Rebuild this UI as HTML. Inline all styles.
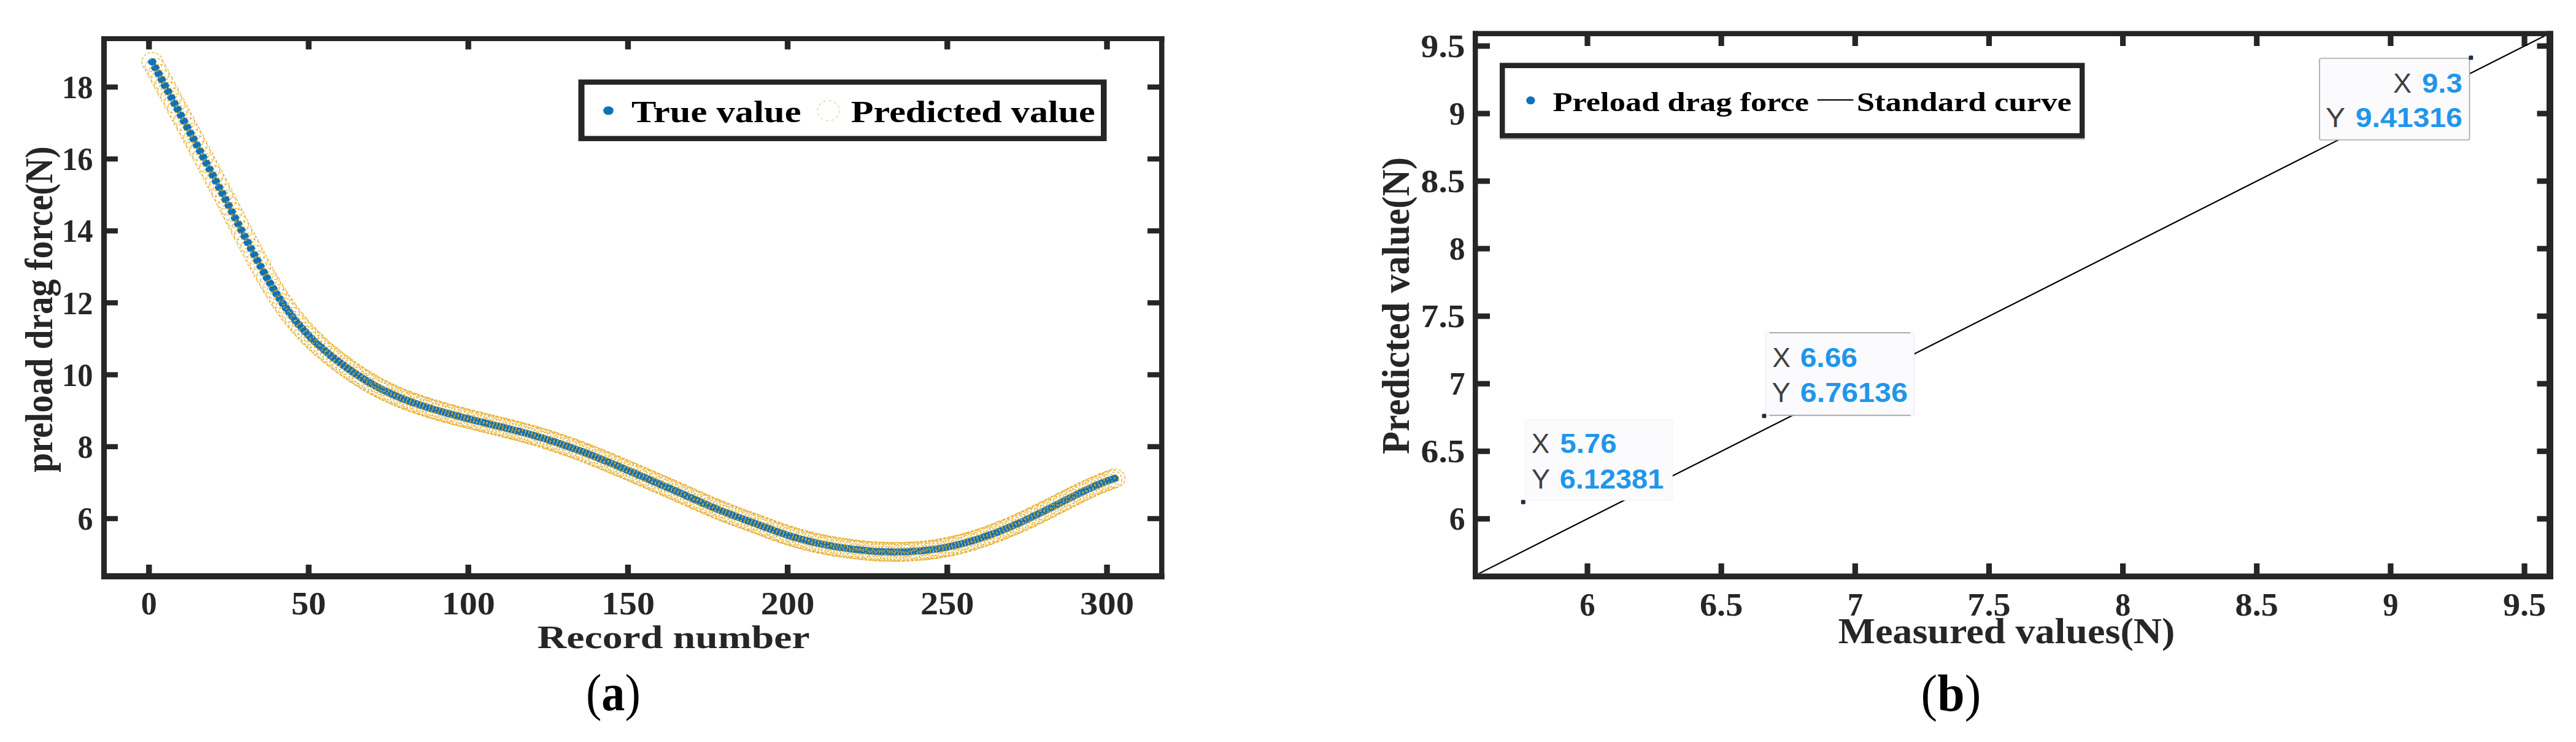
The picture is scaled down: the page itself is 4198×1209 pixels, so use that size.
<!DOCTYPE html>
<html lang="en"><head><meta charset="utf-8"><title>Figure</title>
<style>
html,body{margin:0;padding:0;background:#fff;}
body{width:4198px;height:1209px;overflow:hidden;}
svg{display:block;}
text{white-space:pre;}
</style></head><body>
<svg width="4198" height="1209" viewBox="0 0 4198 1209">
<rect width="4198" height="1209" fill="#ffffff"/>
<rect x="165.00" y="59.00" width="1732.50" height="8.00" fill="#262626" />
<rect x="165.00" y="934.00" width="1732.50" height="10.00" fill="#262626" />
<rect x="165.00" y="59.00" width="9.00" height="885.00" fill="#262626" />
<rect x="1889.00" y="59.00" width="8.50" height="885.00" fill="#262626" />
<rect x="238.10" y="66.00" width="9.40" height="14.50" fill="#262626" />
<rect x="238.10" y="920.00" width="9.40" height="15.00" fill="#262626" />
<rect x="498.30" y="66.00" width="9.40" height="14.50" fill="#262626" />
<rect x="498.30" y="920.00" width="9.40" height="15.00" fill="#262626" />
<rect x="758.50" y="66.00" width="9.40" height="14.50" fill="#262626" />
<rect x="758.50" y="920.00" width="9.40" height="15.00" fill="#262626" />
<rect x="1018.70" y="66.00" width="9.40" height="14.50" fill="#262626" />
<rect x="1018.70" y="920.00" width="9.40" height="15.00" fill="#262626" />
<rect x="1278.90" y="66.00" width="9.40" height="14.50" fill="#262626" />
<rect x="1278.90" y="920.00" width="9.40" height="15.00" fill="#262626" />
<rect x="1539.10" y="66.00" width="9.40" height="14.50" fill="#262626" />
<rect x="1539.10" y="920.00" width="9.40" height="15.00" fill="#262626" />
<rect x="1799.30" y="66.00" width="9.40" height="14.50" fill="#262626" />
<rect x="1799.30" y="920.00" width="9.40" height="15.00" fill="#262626" />
<rect x="173.00" y="840.80" width="19.00" height="8.40" fill="#262626" />
<rect x="1870.00" y="840.80" width="20.00" height="8.40" fill="#262626" />
<rect x="173.00" y="723.60" width="19.00" height="8.40" fill="#262626" />
<rect x="1870.00" y="723.60" width="20.00" height="8.40" fill="#262626" />
<rect x="173.00" y="606.40" width="19.00" height="8.40" fill="#262626" />
<rect x="1870.00" y="606.40" width="20.00" height="8.40" fill="#262626" />
<rect x="173.00" y="489.20" width="19.00" height="8.40" fill="#262626" />
<rect x="1870.00" y="489.20" width="20.00" height="8.40" fill="#262626" />
<rect x="173.00" y="372.00" width="19.00" height="8.40" fill="#262626" />
<rect x="1870.00" y="372.00" width="20.00" height="8.40" fill="#262626" />
<rect x="173.00" y="254.80" width="19.00" height="8.40" fill="#262626" />
<rect x="1870.00" y="254.80" width="20.00" height="8.40" fill="#262626" />
<rect x="173.00" y="137.60" width="19.00" height="8.40" fill="#262626" />
<rect x="1870.00" y="137.60" width="20.00" height="8.40" fill="#262626" />
<g fill="#0e72b7">
<ellipse cx="248.0" cy="100.8" rx="6.9" ry="6.0"/>
<ellipse cx="253.2" cy="110.5" rx="6.9" ry="6.0"/>
<ellipse cx="258.4" cy="120.1" rx="6.9" ry="6.0"/>
<ellipse cx="263.6" cy="129.8" rx="6.9" ry="6.0"/>
<ellipse cx="268.8" cy="139.5" rx="6.9" ry="6.0"/>
<ellipse cx="274.0" cy="149.1" rx="6.9" ry="6.0"/>
<ellipse cx="279.2" cy="158.8" rx="6.9" ry="6.0"/>
<ellipse cx="284.4" cy="168.5" rx="6.9" ry="6.0"/>
<ellipse cx="289.6" cy="178.1" rx="6.9" ry="6.0"/>
<ellipse cx="294.7" cy="187.8" rx="6.9" ry="6.0"/>
<ellipse cx="299.9" cy="197.5" rx="6.9" ry="6.0"/>
<ellipse cx="305.1" cy="207.2" rx="6.9" ry="6.0"/>
<ellipse cx="310.3" cy="216.9" rx="6.9" ry="6.0"/>
<ellipse cx="315.5" cy="226.6" rx="6.9" ry="6.0"/>
<ellipse cx="320.7" cy="236.3" rx="6.9" ry="6.0"/>
<ellipse cx="325.9" cy="246.1" rx="6.9" ry="6.0"/>
<ellipse cx="331.1" cy="255.9" rx="6.9" ry="6.0"/>
<ellipse cx="336.3" cy="265.7" rx="6.9" ry="6.0"/>
<ellipse cx="341.5" cy="275.5" rx="6.9" ry="6.0"/>
<ellipse cx="346.7" cy="285.4" rx="6.9" ry="6.0"/>
<ellipse cx="351.9" cy="295.3" rx="6.9" ry="6.0"/>
<ellipse cx="357.1" cy="305.2" rx="6.9" ry="6.0"/>
<ellipse cx="362.3" cy="315.1" rx="6.9" ry="6.0"/>
<ellipse cx="367.5" cy="325.1" rx="6.9" ry="6.0"/>
<ellipse cx="372.7" cy="335.1" rx="6.9" ry="6.0"/>
<ellipse cx="377.8" cy="345.0" rx="6.9" ry="6.0"/>
<ellipse cx="383.0" cy="355.0" rx="6.9" ry="6.0"/>
<ellipse cx="388.2" cy="365.0" rx="6.9" ry="6.0"/>
<ellipse cx="393.4" cy="375.0" rx="6.9" ry="6.0"/>
<ellipse cx="398.6" cy="385.0" rx="6.9" ry="6.0"/>
<ellipse cx="403.8" cy="395.0" rx="6.9" ry="6.0"/>
<ellipse cx="409.0" cy="404.9" rx="6.9" ry="6.0"/>
<ellipse cx="414.2" cy="414.7" rx="6.9" ry="6.0"/>
<ellipse cx="419.4" cy="424.4" rx="6.9" ry="6.0"/>
<ellipse cx="424.6" cy="434.0" rx="6.9" ry="6.0"/>
<ellipse cx="429.8" cy="443.5" rx="6.9" ry="6.0"/>
<ellipse cx="435.0" cy="452.7" rx="6.9" ry="6.0"/>
<ellipse cx="440.2" cy="461.6" rx="6.9" ry="6.0"/>
<ellipse cx="445.4" cy="470.3" rx="6.9" ry="6.0"/>
<ellipse cx="450.6" cy="478.8" rx="6.9" ry="6.0"/>
<ellipse cx="455.8" cy="486.8" rx="6.9" ry="6.0"/>
<ellipse cx="460.9" cy="494.6" rx="6.9" ry="6.0"/>
<ellipse cx="466.1" cy="502.0" rx="6.9" ry="6.0"/>
<ellipse cx="471.3" cy="509.1" rx="6.9" ry="6.0"/>
<ellipse cx="476.5" cy="516.0" rx="6.9" ry="6.0"/>
<ellipse cx="481.7" cy="522.5" rx="6.9" ry="6.0"/>
<ellipse cx="486.9" cy="528.8" rx="6.9" ry="6.0"/>
<ellipse cx="492.1" cy="534.8" rx="6.9" ry="6.0"/>
<ellipse cx="497.3" cy="540.6" rx="6.9" ry="6.0"/>
<ellipse cx="502.5" cy="546.1" rx="6.9" ry="6.0"/>
<ellipse cx="507.7" cy="551.4" rx="6.9" ry="6.0"/>
<ellipse cx="512.9" cy="556.5" rx="6.9" ry="6.0"/>
<ellipse cx="518.1" cy="561.4" rx="6.9" ry="6.0"/>
<ellipse cx="523.3" cy="566.1" rx="6.9" ry="6.0"/>
<ellipse cx="528.5" cy="570.6" rx="6.9" ry="6.0"/>
<ellipse cx="533.7" cy="575.0" rx="6.9" ry="6.0"/>
<ellipse cx="538.8" cy="579.2" rx="6.9" ry="6.0"/>
<ellipse cx="544.0" cy="583.3" rx="6.9" ry="6.0"/>
<ellipse cx="549.2" cy="587.3" rx="6.9" ry="6.0"/>
<ellipse cx="554.4" cy="591.3" rx="6.9" ry="6.0"/>
<ellipse cx="559.6" cy="595.1" rx="6.9" ry="6.0"/>
<ellipse cx="564.8" cy="598.9" rx="6.9" ry="6.0"/>
<ellipse cx="570.0" cy="602.6" rx="6.9" ry="6.0"/>
<ellipse cx="575.2" cy="606.2" rx="6.9" ry="6.0"/>
<ellipse cx="580.4" cy="609.7" rx="6.9" ry="6.0"/>
<ellipse cx="585.6" cy="613.1" rx="6.9" ry="6.0"/>
<ellipse cx="590.8" cy="616.5" rx="6.9" ry="6.0"/>
<ellipse cx="596.0" cy="619.7" rx="6.9" ry="6.0"/>
<ellipse cx="601.2" cy="622.8" rx="6.9" ry="6.0"/>
<ellipse cx="606.4" cy="625.8" rx="6.9" ry="6.0"/>
<ellipse cx="611.6" cy="628.7" rx="6.9" ry="6.0"/>
<ellipse cx="616.8" cy="631.5" rx="6.9" ry="6.0"/>
<ellipse cx="621.9" cy="634.2" rx="6.9" ry="6.0"/>
<ellipse cx="627.1" cy="636.8" rx="6.9" ry="6.0"/>
<ellipse cx="632.3" cy="639.3" rx="6.9" ry="6.0"/>
<ellipse cx="637.5" cy="641.7" rx="6.9" ry="6.0"/>
<ellipse cx="642.7" cy="644.0" rx="6.9" ry="6.0"/>
<ellipse cx="647.9" cy="646.2" rx="6.9" ry="6.0"/>
<ellipse cx="653.1" cy="648.4" rx="6.9" ry="6.0"/>
<ellipse cx="658.3" cy="650.4" rx="6.9" ry="6.0"/>
<ellipse cx="663.5" cy="652.5" rx="6.9" ry="6.0"/>
<ellipse cx="668.7" cy="654.4" rx="6.9" ry="6.0"/>
<ellipse cx="673.9" cy="656.3" rx="6.9" ry="6.0"/>
<ellipse cx="679.1" cy="658.1" rx="6.9" ry="6.0"/>
<ellipse cx="684.3" cy="659.9" rx="6.9" ry="6.0"/>
<ellipse cx="689.5" cy="661.6" rx="6.9" ry="6.0"/>
<ellipse cx="694.7" cy="663.3" rx="6.9" ry="6.0"/>
<ellipse cx="699.9" cy="664.9" rx="6.9" ry="6.0"/>
<ellipse cx="705.0" cy="666.5" rx="6.9" ry="6.0"/>
<ellipse cx="710.2" cy="668.0" rx="6.9" ry="6.0"/>
<ellipse cx="715.4" cy="669.5" rx="6.9" ry="6.0"/>
<ellipse cx="720.6" cy="671.0" rx="6.9" ry="6.0"/>
<ellipse cx="725.8" cy="672.5" rx="6.9" ry="6.0"/>
<ellipse cx="731.0" cy="673.9" rx="6.9" ry="6.0"/>
<ellipse cx="736.2" cy="675.3" rx="6.9" ry="6.0"/>
<ellipse cx="741.4" cy="676.7" rx="6.9" ry="6.0"/>
<ellipse cx="746.6" cy="678.1" rx="6.9" ry="6.0"/>
<ellipse cx="751.8" cy="679.4" rx="6.9" ry="6.0"/>
<ellipse cx="757.0" cy="680.8" rx="6.9" ry="6.0"/>
<ellipse cx="762.2" cy="682.1" rx="6.9" ry="6.0"/>
<ellipse cx="767.4" cy="683.4" rx="6.9" ry="6.0"/>
<ellipse cx="772.6" cy="684.7" rx="6.9" ry="6.0"/>
<ellipse cx="777.8" cy="686.0" rx="6.9" ry="6.0"/>
<ellipse cx="783.0" cy="687.3" rx="6.9" ry="6.0"/>
<ellipse cx="788.1" cy="688.6" rx="6.9" ry="6.0"/>
<ellipse cx="793.3" cy="689.9" rx="6.9" ry="6.0"/>
<ellipse cx="798.5" cy="691.1" rx="6.9" ry="6.0"/>
<ellipse cx="803.7" cy="692.4" rx="6.9" ry="6.0"/>
<ellipse cx="808.9" cy="693.7" rx="6.9" ry="6.0"/>
<ellipse cx="814.1" cy="695.0" rx="6.9" ry="6.0"/>
<ellipse cx="819.3" cy="696.3" rx="6.9" ry="6.0"/>
<ellipse cx="824.5" cy="697.6" rx="6.9" ry="6.0"/>
<ellipse cx="829.7" cy="698.8" rx="6.9" ry="6.0"/>
<ellipse cx="834.9" cy="700.2" rx="6.9" ry="6.0"/>
<ellipse cx="840.1" cy="701.5" rx="6.9" ry="6.0"/>
<ellipse cx="845.3" cy="702.8" rx="6.9" ry="6.0"/>
<ellipse cx="850.5" cy="704.2" rx="6.9" ry="6.0"/>
<ellipse cx="855.7" cy="705.6" rx="6.9" ry="6.0"/>
<ellipse cx="860.9" cy="707.0" rx="6.9" ry="6.0"/>
<ellipse cx="866.0" cy="708.5" rx="6.9" ry="6.0"/>
<ellipse cx="871.2" cy="710.0" rx="6.9" ry="6.0"/>
<ellipse cx="876.4" cy="711.5" rx="6.9" ry="6.0"/>
<ellipse cx="881.6" cy="713.0" rx="6.9" ry="6.0"/>
<ellipse cx="886.8" cy="714.6" rx="6.9" ry="6.0"/>
<ellipse cx="892.0" cy="716.3" rx="6.9" ry="6.0"/>
<ellipse cx="897.2" cy="717.9" rx="6.9" ry="6.0"/>
<ellipse cx="902.4" cy="719.6" rx="6.9" ry="6.0"/>
<ellipse cx="907.6" cy="721.3" rx="6.9" ry="6.0"/>
<ellipse cx="912.8" cy="723.1" rx="6.9" ry="6.0"/>
<ellipse cx="918.0" cy="724.9" rx="6.9" ry="6.0"/>
<ellipse cx="923.2" cy="726.7" rx="6.9" ry="6.0"/>
<ellipse cx="928.4" cy="728.5" rx="6.9" ry="6.0"/>
<ellipse cx="933.6" cy="730.4" rx="6.9" ry="6.0"/>
<ellipse cx="938.8" cy="732.3" rx="6.9" ry="6.0"/>
<ellipse cx="944.0" cy="734.2" rx="6.9" ry="6.0"/>
<ellipse cx="949.1" cy="736.1" rx="6.9" ry="6.0"/>
<ellipse cx="954.3" cy="738.1" rx="6.9" ry="6.0"/>
<ellipse cx="959.5" cy="740.1" rx="6.9" ry="6.0"/>
<ellipse cx="964.7" cy="742.1" rx="6.9" ry="6.0"/>
<ellipse cx="969.9" cy="744.2" rx="6.9" ry="6.0"/>
<ellipse cx="975.1" cy="746.3" rx="6.9" ry="6.0"/>
<ellipse cx="980.3" cy="748.4" rx="6.9" ry="6.0"/>
<ellipse cx="985.5" cy="750.5" rx="6.9" ry="6.0"/>
<ellipse cx="990.7" cy="752.7" rx="6.9" ry="6.0"/>
<ellipse cx="995.9" cy="754.9" rx="6.9" ry="6.0"/>
<ellipse cx="1001.1" cy="757.1" rx="6.9" ry="6.0"/>
<ellipse cx="1006.3" cy="759.3" rx="6.9" ry="6.0"/>
<ellipse cx="1011.5" cy="761.5" rx="6.9" ry="6.0"/>
<ellipse cx="1016.7" cy="763.7" rx="6.9" ry="6.0"/>
<ellipse cx="1021.9" cy="765.9" rx="6.9" ry="6.0"/>
<ellipse cx="1027.1" cy="768.1" rx="6.9" ry="6.0"/>
<ellipse cx="1032.2" cy="770.3" rx="6.9" ry="6.0"/>
<ellipse cx="1037.4" cy="772.5" rx="6.9" ry="6.0"/>
<ellipse cx="1042.6" cy="774.8" rx="6.9" ry="6.0"/>
<ellipse cx="1047.8" cy="777.0" rx="6.9" ry="6.0"/>
<ellipse cx="1053.0" cy="779.2" rx="6.9" ry="6.0"/>
<ellipse cx="1058.2" cy="781.4" rx="6.9" ry="6.0"/>
<ellipse cx="1063.4" cy="783.7" rx="6.9" ry="6.0"/>
<ellipse cx="1068.6" cy="785.9" rx="6.9" ry="6.0"/>
<ellipse cx="1073.8" cy="788.2" rx="6.9" ry="6.0"/>
<ellipse cx="1079.0" cy="790.4" rx="6.9" ry="6.0"/>
<ellipse cx="1084.2" cy="792.7" rx="6.9" ry="6.0"/>
<ellipse cx="1089.4" cy="795.0" rx="6.9" ry="6.0"/>
<ellipse cx="1094.6" cy="797.2" rx="6.9" ry="6.0"/>
<ellipse cx="1099.8" cy="799.5" rx="6.9" ry="6.0"/>
<ellipse cx="1105.0" cy="801.8" rx="6.9" ry="6.0"/>
<ellipse cx="1110.2" cy="804.1" rx="6.9" ry="6.0"/>
<ellipse cx="1115.3" cy="806.4" rx="6.9" ry="6.0"/>
<ellipse cx="1120.5" cy="808.7" rx="6.9" ry="6.0"/>
<ellipse cx="1125.7" cy="811.0" rx="6.9" ry="6.0"/>
<ellipse cx="1130.9" cy="813.3" rx="6.9" ry="6.0"/>
<ellipse cx="1136.1" cy="815.6" rx="6.9" ry="6.0"/>
<ellipse cx="1141.3" cy="817.9" rx="6.9" ry="6.0"/>
<ellipse cx="1146.5" cy="820.2" rx="6.9" ry="6.0"/>
<ellipse cx="1151.7" cy="822.4" rx="6.9" ry="6.0"/>
<ellipse cx="1156.9" cy="824.7" rx="6.9" ry="6.0"/>
<ellipse cx="1162.1" cy="826.9" rx="6.9" ry="6.0"/>
<ellipse cx="1167.3" cy="829.1" rx="6.9" ry="6.0"/>
<ellipse cx="1172.5" cy="831.2" rx="6.9" ry="6.0"/>
<ellipse cx="1177.7" cy="833.3" rx="6.9" ry="6.0"/>
<ellipse cx="1182.9" cy="835.3" rx="6.9" ry="6.0"/>
<ellipse cx="1188.1" cy="837.3" rx="6.9" ry="6.0"/>
<ellipse cx="1193.3" cy="839.3" rx="6.9" ry="6.0"/>
<ellipse cx="1198.4" cy="841.2" rx="6.9" ry="6.0"/>
<ellipse cx="1203.6" cy="843.1" rx="6.9" ry="6.0"/>
<ellipse cx="1208.8" cy="845.0" rx="6.9" ry="6.0"/>
<ellipse cx="1214.0" cy="846.9" rx="6.9" ry="6.0"/>
<ellipse cx="1219.2" cy="848.8" rx="6.9" ry="6.0"/>
<ellipse cx="1224.4" cy="850.7" rx="6.9" ry="6.0"/>
<ellipse cx="1229.6" cy="852.6" rx="6.9" ry="6.0"/>
<ellipse cx="1234.8" cy="854.5" rx="6.9" ry="6.0"/>
<ellipse cx="1240.0" cy="856.5" rx="6.9" ry="6.0"/>
<ellipse cx="1245.2" cy="858.4" rx="6.9" ry="6.0"/>
<ellipse cx="1250.4" cy="860.3" rx="6.9" ry="6.0"/>
<ellipse cx="1255.6" cy="862.3" rx="6.9" ry="6.0"/>
<ellipse cx="1260.8" cy="864.2" rx="6.9" ry="6.0"/>
<ellipse cx="1266.0" cy="866.0" rx="6.9" ry="6.0"/>
<ellipse cx="1271.2" cy="867.9" rx="6.9" ry="6.0"/>
<ellipse cx="1276.3" cy="869.6" rx="6.9" ry="6.0"/>
<ellipse cx="1281.5" cy="871.4" rx="6.9" ry="6.0"/>
<ellipse cx="1286.7" cy="873.0" rx="6.9" ry="6.0"/>
<ellipse cx="1291.9" cy="874.7" rx="6.9" ry="6.0"/>
<ellipse cx="1297.1" cy="876.2" rx="6.9" ry="6.0"/>
<ellipse cx="1302.3" cy="877.7" rx="6.9" ry="6.0"/>
<ellipse cx="1307.5" cy="879.1" rx="6.9" ry="6.0"/>
<ellipse cx="1312.7" cy="880.5" rx="6.9" ry="6.0"/>
<ellipse cx="1317.9" cy="881.8" rx="6.9" ry="6.0"/>
<ellipse cx="1323.1" cy="883.1" rx="6.9" ry="6.0"/>
<ellipse cx="1328.3" cy="884.3" rx="6.9" ry="6.0"/>
<ellipse cx="1333.5" cy="885.4" rx="6.9" ry="6.0"/>
<ellipse cx="1338.7" cy="886.5" rx="6.9" ry="6.0"/>
<ellipse cx="1343.9" cy="887.6" rx="6.9" ry="6.0"/>
<ellipse cx="1349.1" cy="888.6" rx="6.9" ry="6.0"/>
<ellipse cx="1354.3" cy="889.5" rx="6.9" ry="6.0"/>
<ellipse cx="1359.4" cy="890.4" rx="6.9" ry="6.0"/>
<ellipse cx="1364.6" cy="891.2" rx="6.9" ry="6.0"/>
<ellipse cx="1369.8" cy="892.0" rx="6.9" ry="6.0"/>
<ellipse cx="1375.0" cy="892.8" rx="6.9" ry="6.0"/>
<ellipse cx="1380.2" cy="893.5" rx="6.9" ry="6.0"/>
<ellipse cx="1385.4" cy="894.2" rx="6.9" ry="6.0"/>
<ellipse cx="1390.6" cy="894.9" rx="6.9" ry="6.0"/>
<ellipse cx="1395.8" cy="895.5" rx="6.9" ry="6.0"/>
<ellipse cx="1401.0" cy="896.1" rx="6.9" ry="6.0"/>
<ellipse cx="1406.2" cy="896.6" rx="6.9" ry="6.0"/>
<ellipse cx="1411.4" cy="897.1" rx="6.9" ry="6.0"/>
<ellipse cx="1416.6" cy="897.6" rx="6.9" ry="6.0"/>
<ellipse cx="1421.8" cy="898.0" rx="6.9" ry="6.0"/>
<ellipse cx="1427.0" cy="898.4" rx="6.9" ry="6.0"/>
<ellipse cx="1432.2" cy="898.7" rx="6.9" ry="6.0"/>
<ellipse cx="1437.4" cy="898.9" rx="6.9" ry="6.0"/>
<ellipse cx="1442.5" cy="899.1" rx="6.9" ry="6.0"/>
<ellipse cx="1447.7" cy="899.2" rx="6.9" ry="6.0"/>
<ellipse cx="1452.9" cy="899.3" rx="6.9" ry="6.0"/>
<ellipse cx="1458.1" cy="899.3" rx="6.9" ry="6.0"/>
<ellipse cx="1463.3" cy="899.3" rx="6.9" ry="6.0"/>
<ellipse cx="1468.5" cy="899.2" rx="6.9" ry="6.0"/>
<ellipse cx="1473.7" cy="899.1" rx="6.9" ry="6.0"/>
<ellipse cx="1478.9" cy="898.9" rx="6.9" ry="6.0"/>
<ellipse cx="1484.1" cy="898.6" rx="6.9" ry="6.0"/>
<ellipse cx="1489.3" cy="898.3" rx="6.9" ry="6.0"/>
<ellipse cx="1494.5" cy="898.0" rx="6.9" ry="6.0"/>
<ellipse cx="1499.7" cy="897.5" rx="6.9" ry="6.0"/>
<ellipse cx="1504.9" cy="897.1" rx="6.9" ry="6.0"/>
<ellipse cx="1510.1" cy="896.5" rx="6.9" ry="6.0"/>
<ellipse cx="1515.3" cy="895.9" rx="6.9" ry="6.0"/>
<ellipse cx="1520.5" cy="895.3" rx="6.9" ry="6.0"/>
<ellipse cx="1525.6" cy="894.5" rx="6.9" ry="6.0"/>
<ellipse cx="1530.8" cy="893.7" rx="6.9" ry="6.0"/>
<ellipse cx="1536.0" cy="892.8" rx="6.9" ry="6.0"/>
<ellipse cx="1541.2" cy="891.9" rx="6.9" ry="6.0"/>
<ellipse cx="1546.4" cy="890.8" rx="6.9" ry="6.0"/>
<ellipse cx="1551.6" cy="889.7" rx="6.9" ry="6.0"/>
<ellipse cx="1556.8" cy="888.6" rx="6.9" ry="6.0"/>
<ellipse cx="1562.0" cy="887.3" rx="6.9" ry="6.0"/>
<ellipse cx="1567.2" cy="886.0" rx="6.9" ry="6.0"/>
<ellipse cx="1572.4" cy="884.6" rx="6.9" ry="6.0"/>
<ellipse cx="1577.6" cy="883.1" rx="6.9" ry="6.0"/>
<ellipse cx="1582.8" cy="881.6" rx="6.9" ry="6.0"/>
<ellipse cx="1588.0" cy="880.0" rx="6.9" ry="6.0"/>
<ellipse cx="1593.2" cy="878.4" rx="6.9" ry="6.0"/>
<ellipse cx="1598.4" cy="876.7" rx="6.9" ry="6.0"/>
<ellipse cx="1603.5" cy="875.0" rx="6.9" ry="6.0"/>
<ellipse cx="1608.7" cy="873.2" rx="6.9" ry="6.0"/>
<ellipse cx="1613.9" cy="871.3" rx="6.9" ry="6.0"/>
<ellipse cx="1619.1" cy="869.4" rx="6.9" ry="6.0"/>
<ellipse cx="1624.3" cy="867.4" rx="6.9" ry="6.0"/>
<ellipse cx="1629.5" cy="865.4" rx="6.9" ry="6.0"/>
<ellipse cx="1634.7" cy="863.3" rx="6.9" ry="6.0"/>
<ellipse cx="1639.9" cy="861.2" rx="6.9" ry="6.0"/>
<ellipse cx="1645.1" cy="859.1" rx="6.9" ry="6.0"/>
<ellipse cx="1650.3" cy="856.8" rx="6.9" ry="6.0"/>
<ellipse cx="1655.5" cy="854.6" rx="6.9" ry="6.0"/>
<ellipse cx="1660.7" cy="852.3" rx="6.9" ry="6.0"/>
<ellipse cx="1665.9" cy="849.9" rx="6.9" ry="6.0"/>
<ellipse cx="1671.1" cy="847.5" rx="6.9" ry="6.0"/>
<ellipse cx="1676.3" cy="845.1" rx="6.9" ry="6.0"/>
<ellipse cx="1681.5" cy="842.6" rx="6.9" ry="6.0"/>
<ellipse cx="1686.6" cy="840.1" rx="6.9" ry="6.0"/>
<ellipse cx="1691.8" cy="837.6" rx="6.9" ry="6.0"/>
<ellipse cx="1697.0" cy="835.0" rx="6.9" ry="6.0"/>
<ellipse cx="1702.2" cy="832.4" rx="6.9" ry="6.0"/>
<ellipse cx="1707.4" cy="829.8" rx="6.9" ry="6.0"/>
<ellipse cx="1712.6" cy="827.2" rx="6.9" ry="6.0"/>
<ellipse cx="1717.8" cy="824.5" rx="6.9" ry="6.0"/>
<ellipse cx="1723.0" cy="821.9" rx="6.9" ry="6.0"/>
<ellipse cx="1728.2" cy="819.2" rx="6.9" ry="6.0"/>
<ellipse cx="1733.4" cy="816.6" rx="6.9" ry="6.0"/>
<ellipse cx="1738.6" cy="813.9" rx="6.9" ry="6.0"/>
<ellipse cx="1743.8" cy="811.3" rx="6.9" ry="6.0"/>
<ellipse cx="1749.0" cy="808.7" rx="6.9" ry="6.0"/>
<ellipse cx="1754.2" cy="806.1" rx="6.9" ry="6.0"/>
<ellipse cx="1759.4" cy="803.5" rx="6.9" ry="6.0"/>
<ellipse cx="1764.6" cy="801.0" rx="6.9" ry="6.0"/>
<ellipse cx="1769.7" cy="798.6" rx="6.9" ry="6.0"/>
<ellipse cx="1774.9" cy="796.2" rx="6.9" ry="6.0"/>
<ellipse cx="1780.1" cy="793.8" rx="6.9" ry="6.0"/>
<ellipse cx="1785.3" cy="791.5" rx="6.9" ry="6.0"/>
<ellipse cx="1790.5" cy="789.3" rx="6.9" ry="6.0"/>
<ellipse cx="1795.7" cy="787.1" rx="6.9" ry="6.0"/>
<ellipse cx="1800.9" cy="785.1" rx="6.9" ry="6.0"/>
<ellipse cx="1806.1" cy="783.1" rx="6.9" ry="6.0"/>
<ellipse cx="1811.3" cy="781.2" rx="6.9" ry="6.0"/>
<ellipse cx="1816.5" cy="779.4" rx="6.9" ry="6.0"/>
</g>
<g fill="none" stroke="#e5ac28" stroke-width="1.4" stroke-opacity="0.92" stroke-dasharray="4.5 2.6">
<ellipse cx="248.0" cy="100.8" rx="16.9" ry="15.4" stroke-dashoffset="3"/>
<ellipse cx="253.2" cy="110.5" rx="16.9" ry="15.4" stroke-dashoffset="6"/>
<ellipse cx="258.4" cy="120.1" rx="16.9" ry="15.4" stroke-dashoffset="7"/>
<ellipse cx="263.6" cy="129.8" rx="16.9" ry="15.4" stroke-dashoffset="5"/>
<ellipse cx="268.8" cy="139.5" rx="16.9" ry="15.4" stroke-dashoffset="6"/>
<ellipse cx="274.0" cy="149.1" rx="16.9" ry="15.4" stroke-dashoffset="6"/>
<ellipse cx="279.2" cy="158.8" rx="16.9" ry="15.4" stroke-dashoffset="0"/>
<ellipse cx="284.4" cy="168.5" rx="16.9" ry="15.4" stroke-dashoffset="1"/>
<ellipse cx="289.6" cy="178.1" rx="16.9" ry="15.4" stroke-dashoffset="0"/>
<ellipse cx="294.7" cy="187.8" rx="16.9" ry="15.4" stroke-dashoffset="4"/>
<ellipse cx="299.9" cy="197.5" rx="16.9" ry="15.4" stroke-dashoffset="7"/>
<ellipse cx="305.1" cy="207.2" rx="16.9" ry="15.4" stroke-dashoffset="6"/>
<ellipse cx="310.3" cy="216.9" rx="16.9" ry="15.4" stroke-dashoffset="3"/>
<ellipse cx="315.5" cy="226.6" rx="16.9" ry="15.4" stroke-dashoffset="0"/>
<ellipse cx="320.7" cy="236.3" rx="16.9" ry="15.4" stroke-dashoffset="6"/>
<ellipse cx="325.9" cy="246.1" rx="16.9" ry="15.4" stroke-dashoffset="0"/>
<ellipse cx="331.1" cy="255.9" rx="16.9" ry="15.4" stroke-dashoffset="7"/>
<ellipse cx="336.3" cy="265.7" rx="16.9" ry="15.4" stroke-dashoffset="4"/>
<ellipse cx="341.5" cy="275.5" rx="16.9" ry="15.4" stroke-dashoffset="7"/>
<ellipse cx="346.7" cy="285.4" rx="16.9" ry="15.4" stroke-dashoffset="1"/>
<ellipse cx="351.9" cy="295.3" rx="16.9" ry="15.4" stroke-dashoffset="5"/>
<ellipse cx="357.1" cy="305.2" rx="16.9" ry="15.4" stroke-dashoffset="7"/>
<ellipse cx="362.3" cy="315.1" rx="16.9" ry="15.4" stroke-dashoffset="0"/>
<ellipse cx="367.5" cy="325.1" rx="16.9" ry="15.4" stroke-dashoffset="3"/>
<ellipse cx="372.7" cy="335.1" rx="16.9" ry="15.4" stroke-dashoffset="4"/>
<ellipse cx="377.8" cy="345.0" rx="16.9" ry="15.4" stroke-dashoffset="5"/>
<ellipse cx="383.0" cy="355.0" rx="16.9" ry="15.4" stroke-dashoffset="3"/>
<ellipse cx="388.2" cy="365.0" rx="16.9" ry="15.4" stroke-dashoffset="1"/>
<ellipse cx="393.4" cy="375.0" rx="16.9" ry="15.4" stroke-dashoffset="7"/>
<ellipse cx="398.6" cy="385.0" rx="16.9" ry="15.4" stroke-dashoffset="6"/>
<ellipse cx="403.8" cy="395.0" rx="16.9" ry="15.4" stroke-dashoffset="4"/>
<ellipse cx="409.0" cy="404.9" rx="16.9" ry="15.4" stroke-dashoffset="6"/>
<ellipse cx="414.2" cy="414.7" rx="16.9" ry="15.4" stroke-dashoffset="5"/>
<ellipse cx="419.4" cy="424.4" rx="16.9" ry="15.4" stroke-dashoffset="2"/>
<ellipse cx="424.6" cy="434.0" rx="16.9" ry="15.4" stroke-dashoffset="6"/>
<ellipse cx="429.8" cy="443.5" rx="16.9" ry="15.4" stroke-dashoffset="1"/>
<ellipse cx="435.0" cy="452.7" rx="16.9" ry="15.4" stroke-dashoffset="1"/>
<ellipse cx="440.2" cy="461.6" rx="16.9" ry="15.4" stroke-dashoffset="2"/>
<ellipse cx="445.4" cy="470.3" rx="16.9" ry="15.4" stroke-dashoffset="1"/>
<ellipse cx="450.6" cy="478.8" rx="16.9" ry="15.4" stroke-dashoffset="1"/>
<ellipse cx="455.8" cy="486.8" rx="16.9" ry="15.4" stroke-dashoffset="6"/>
<ellipse cx="460.9" cy="494.6" rx="16.9" ry="15.4" stroke-dashoffset="1"/>
<ellipse cx="466.1" cy="502.0" rx="16.9" ry="15.4" stroke-dashoffset="2"/>
<ellipse cx="471.3" cy="509.1" rx="16.9" ry="15.4" stroke-dashoffset="7"/>
<ellipse cx="476.5" cy="516.0" rx="16.9" ry="15.4" stroke-dashoffset="0"/>
<ellipse cx="481.7" cy="522.5" rx="16.9" ry="15.4" stroke-dashoffset="6"/>
<ellipse cx="486.9" cy="528.8" rx="16.9" ry="15.4" stroke-dashoffset="5"/>
<ellipse cx="492.1" cy="534.8" rx="16.9" ry="15.4" stroke-dashoffset="2"/>
<ellipse cx="497.3" cy="540.6" rx="16.9" ry="15.4" stroke-dashoffset="0"/>
<ellipse cx="502.5" cy="546.1" rx="16.9" ry="15.4" stroke-dashoffset="0"/>
<ellipse cx="507.7" cy="551.4" rx="16.9" ry="15.4" stroke-dashoffset="4"/>
<ellipse cx="512.9" cy="556.5" rx="16.9" ry="15.4" stroke-dashoffset="6"/>
<ellipse cx="518.1" cy="561.4" rx="16.9" ry="15.4" stroke-dashoffset="4"/>
<ellipse cx="523.3" cy="566.1" rx="16.9" ry="15.4" stroke-dashoffset="1"/>
<ellipse cx="528.5" cy="570.6" rx="16.9" ry="15.4" stroke-dashoffset="3"/>
<ellipse cx="533.7" cy="575.0" rx="16.9" ry="15.4" stroke-dashoffset="3"/>
<ellipse cx="538.8" cy="579.2" rx="16.9" ry="15.4" stroke-dashoffset="7"/>
<ellipse cx="544.0" cy="583.3" rx="16.9" ry="15.4" stroke-dashoffset="2"/>
<ellipse cx="549.2" cy="587.3" rx="16.9" ry="15.4" stroke-dashoffset="4"/>
<ellipse cx="554.4" cy="591.3" rx="16.9" ry="15.4" stroke-dashoffset="6"/>
<ellipse cx="559.6" cy="595.1" rx="16.9" ry="15.4" stroke-dashoffset="1"/>
<ellipse cx="564.8" cy="598.9" rx="16.9" ry="15.4" stroke-dashoffset="3"/>
<ellipse cx="570.0" cy="602.6" rx="16.9" ry="15.4" stroke-dashoffset="3"/>
<ellipse cx="575.2" cy="606.2" rx="16.9" ry="15.4" stroke-dashoffset="2"/>
<ellipse cx="580.4" cy="609.7" rx="16.9" ry="15.4" stroke-dashoffset="1"/>
<ellipse cx="585.6" cy="613.1" rx="16.9" ry="15.4" stroke-dashoffset="5"/>
<ellipse cx="590.8" cy="616.5" rx="16.9" ry="15.4" stroke-dashoffset="7"/>
<ellipse cx="596.0" cy="619.7" rx="16.9" ry="15.4" stroke-dashoffset="4"/>
<ellipse cx="601.2" cy="622.8" rx="16.9" ry="15.4" stroke-dashoffset="4"/>
<ellipse cx="606.4" cy="625.8" rx="16.9" ry="15.4" stroke-dashoffset="5"/>
<ellipse cx="611.6" cy="628.7" rx="16.9" ry="15.4" stroke-dashoffset="6"/>
<ellipse cx="616.8" cy="631.5" rx="16.9" ry="15.4" stroke-dashoffset="6"/>
<ellipse cx="621.9" cy="634.2" rx="16.9" ry="15.4" stroke-dashoffset="3"/>
<ellipse cx="627.1" cy="636.8" rx="16.9" ry="15.4" stroke-dashoffset="3"/>
<ellipse cx="632.3" cy="639.3" rx="16.9" ry="15.4" stroke-dashoffset="3"/>
<ellipse cx="637.5" cy="641.7" rx="16.9" ry="15.4" stroke-dashoffset="4"/>
<ellipse cx="642.7" cy="644.0" rx="16.9" ry="15.4" stroke-dashoffset="1"/>
<ellipse cx="647.9" cy="646.2" rx="16.9" ry="15.4" stroke-dashoffset="7"/>
<ellipse cx="653.1" cy="648.4" rx="16.9" ry="15.4" stroke-dashoffset="3"/>
<ellipse cx="658.3" cy="650.4" rx="16.9" ry="15.4" stroke-dashoffset="3"/>
<ellipse cx="663.5" cy="652.5" rx="16.9" ry="15.4" stroke-dashoffset="6"/>
<ellipse cx="668.7" cy="654.4" rx="16.9" ry="15.4" stroke-dashoffset="3"/>
<ellipse cx="673.9" cy="656.3" rx="16.9" ry="15.4" stroke-dashoffset="5"/>
<ellipse cx="679.1" cy="658.1" rx="16.9" ry="15.4" stroke-dashoffset="1"/>
<ellipse cx="684.3" cy="659.9" rx="16.9" ry="15.4" stroke-dashoffset="1"/>
<ellipse cx="689.5" cy="661.6" rx="16.9" ry="15.4" stroke-dashoffset="5"/>
<ellipse cx="694.7" cy="663.3" rx="16.9" ry="15.4" stroke-dashoffset="7"/>
<ellipse cx="699.9" cy="664.9" rx="16.9" ry="15.4" stroke-dashoffset="0"/>
<ellipse cx="705.0" cy="666.5" rx="16.9" ry="15.4" stroke-dashoffset="6"/>
<ellipse cx="710.2" cy="668.0" rx="16.9" ry="15.4" stroke-dashoffset="6"/>
<ellipse cx="715.4" cy="669.5" rx="16.9" ry="15.4" stroke-dashoffset="2"/>
<ellipse cx="720.6" cy="671.0" rx="16.9" ry="15.4" stroke-dashoffset="7"/>
<ellipse cx="725.8" cy="672.5" rx="16.9" ry="15.4" stroke-dashoffset="1"/>
<ellipse cx="731.0" cy="673.9" rx="16.9" ry="15.4" stroke-dashoffset="6"/>
<ellipse cx="736.2" cy="675.3" rx="16.9" ry="15.4" stroke-dashoffset="7"/>
<ellipse cx="741.4" cy="676.7" rx="16.9" ry="15.4" stroke-dashoffset="0"/>
<ellipse cx="746.6" cy="678.1" rx="16.9" ry="15.4" stroke-dashoffset="5"/>
<ellipse cx="751.8" cy="679.4" rx="16.9" ry="15.4" stroke-dashoffset="2"/>
<ellipse cx="757.0" cy="680.8" rx="16.9" ry="15.4" stroke-dashoffset="5"/>
<ellipse cx="762.2" cy="682.1" rx="16.9" ry="15.4" stroke-dashoffset="3"/>
<ellipse cx="767.4" cy="683.4" rx="16.9" ry="15.4" stroke-dashoffset="0"/>
<ellipse cx="772.6" cy="684.7" rx="16.9" ry="15.4" stroke-dashoffset="5"/>
<ellipse cx="777.8" cy="686.0" rx="16.9" ry="15.4" stroke-dashoffset="6"/>
<ellipse cx="783.0" cy="687.3" rx="16.9" ry="15.4" stroke-dashoffset="3"/>
<ellipse cx="788.1" cy="688.6" rx="16.9" ry="15.4" stroke-dashoffset="0"/>
<ellipse cx="793.3" cy="689.9" rx="16.9" ry="15.4" stroke-dashoffset="7"/>
<ellipse cx="798.5" cy="691.1" rx="16.9" ry="15.4" stroke-dashoffset="0"/>
<ellipse cx="803.7" cy="692.4" rx="16.9" ry="15.4" stroke-dashoffset="4"/>
<ellipse cx="808.9" cy="693.7" rx="16.9" ry="15.4" stroke-dashoffset="4"/>
<ellipse cx="814.1" cy="695.0" rx="16.9" ry="15.4" stroke-dashoffset="5"/>
<ellipse cx="819.3" cy="696.3" rx="16.9" ry="15.4" stroke-dashoffset="6"/>
<ellipse cx="824.5" cy="697.6" rx="16.9" ry="15.4" stroke-dashoffset="7"/>
<ellipse cx="829.7" cy="698.8" rx="16.9" ry="15.4" stroke-dashoffset="6"/>
<ellipse cx="834.9" cy="700.2" rx="16.9" ry="15.4" stroke-dashoffset="2"/>
<ellipse cx="840.1" cy="701.5" rx="16.9" ry="15.4" stroke-dashoffset="0"/>
<ellipse cx="845.3" cy="702.8" rx="16.9" ry="15.4" stroke-dashoffset="7"/>
<ellipse cx="850.5" cy="704.2" rx="16.9" ry="15.4" stroke-dashoffset="7"/>
<ellipse cx="855.7" cy="705.6" rx="16.9" ry="15.4" stroke-dashoffset="6"/>
<ellipse cx="860.9" cy="707.0" rx="16.9" ry="15.4" stroke-dashoffset="3"/>
<ellipse cx="866.0" cy="708.5" rx="16.9" ry="15.4" stroke-dashoffset="0"/>
<ellipse cx="871.2" cy="710.0" rx="16.9" ry="15.4" stroke-dashoffset="0"/>
<ellipse cx="876.4" cy="711.5" rx="16.9" ry="15.4" stroke-dashoffset="0"/>
<ellipse cx="881.6" cy="713.0" rx="16.9" ry="15.4" stroke-dashoffset="2"/>
<ellipse cx="886.8" cy="714.6" rx="16.9" ry="15.4" stroke-dashoffset="4"/>
<ellipse cx="892.0" cy="716.3" rx="16.9" ry="15.4" stroke-dashoffset="6"/>
<ellipse cx="897.2" cy="717.9" rx="16.9" ry="15.4" stroke-dashoffset="5"/>
<ellipse cx="902.4" cy="719.6" rx="16.9" ry="15.4" stroke-dashoffset="6"/>
<ellipse cx="907.6" cy="721.3" rx="16.9" ry="15.4" stroke-dashoffset="3"/>
<ellipse cx="912.8" cy="723.1" rx="16.9" ry="15.4" stroke-dashoffset="5"/>
<ellipse cx="918.0" cy="724.9" rx="16.9" ry="15.4" stroke-dashoffset="1"/>
<ellipse cx="923.2" cy="726.7" rx="16.9" ry="15.4" stroke-dashoffset="6"/>
<ellipse cx="928.4" cy="728.5" rx="16.9" ry="15.4" stroke-dashoffset="4"/>
<ellipse cx="933.6" cy="730.4" rx="16.9" ry="15.4" stroke-dashoffset="5"/>
<ellipse cx="938.8" cy="732.3" rx="16.9" ry="15.4" stroke-dashoffset="2"/>
<ellipse cx="944.0" cy="734.2" rx="16.9" ry="15.4" stroke-dashoffset="4"/>
<ellipse cx="949.1" cy="736.1" rx="16.9" ry="15.4" stroke-dashoffset="3"/>
<ellipse cx="954.3" cy="738.1" rx="16.9" ry="15.4" stroke-dashoffset="5"/>
<ellipse cx="959.5" cy="740.1" rx="16.9" ry="15.4" stroke-dashoffset="0"/>
<ellipse cx="964.7" cy="742.1" rx="16.9" ry="15.4" stroke-dashoffset="0"/>
<ellipse cx="969.9" cy="744.2" rx="16.9" ry="15.4" stroke-dashoffset="1"/>
<ellipse cx="975.1" cy="746.3" rx="16.9" ry="15.4" stroke-dashoffset="4"/>
<ellipse cx="980.3" cy="748.4" rx="16.9" ry="15.4" stroke-dashoffset="7"/>
<ellipse cx="985.5" cy="750.5" rx="16.9" ry="15.4" stroke-dashoffset="6"/>
<ellipse cx="990.7" cy="752.7" rx="16.9" ry="15.4" stroke-dashoffset="3"/>
<ellipse cx="995.9" cy="754.9" rx="16.9" ry="15.4" stroke-dashoffset="7"/>
<ellipse cx="1001.1" cy="757.1" rx="16.9" ry="15.4" stroke-dashoffset="4"/>
<ellipse cx="1006.3" cy="759.3" rx="16.9" ry="15.4" stroke-dashoffset="1"/>
<ellipse cx="1011.5" cy="761.5" rx="16.9" ry="15.4" stroke-dashoffset="7"/>
<ellipse cx="1016.7" cy="763.7" rx="16.9" ry="15.4" stroke-dashoffset="0"/>
<ellipse cx="1021.9" cy="765.9" rx="16.9" ry="15.4" stroke-dashoffset="0"/>
<ellipse cx="1027.1" cy="768.1" rx="16.9" ry="15.4" stroke-dashoffset="2"/>
<ellipse cx="1032.2" cy="770.3" rx="16.9" ry="15.4" stroke-dashoffset="5"/>
<ellipse cx="1037.4" cy="772.5" rx="16.9" ry="15.4" stroke-dashoffset="4"/>
<ellipse cx="1042.6" cy="774.8" rx="16.9" ry="15.4" stroke-dashoffset="3"/>
<ellipse cx="1047.8" cy="777.0" rx="16.9" ry="15.4" stroke-dashoffset="7"/>
<ellipse cx="1053.0" cy="779.2" rx="16.9" ry="15.4" stroke-dashoffset="2"/>
<ellipse cx="1058.2" cy="781.4" rx="16.9" ry="15.4" stroke-dashoffset="4"/>
<ellipse cx="1063.4" cy="783.7" rx="16.9" ry="15.4" stroke-dashoffset="1"/>
<ellipse cx="1068.6" cy="785.9" rx="16.9" ry="15.4" stroke-dashoffset="6"/>
<ellipse cx="1073.8" cy="788.2" rx="16.9" ry="15.4" stroke-dashoffset="2"/>
<ellipse cx="1079.0" cy="790.4" rx="16.9" ry="15.4" stroke-dashoffset="3"/>
<ellipse cx="1084.2" cy="792.7" rx="16.9" ry="15.4" stroke-dashoffset="4"/>
<ellipse cx="1089.4" cy="795.0" rx="16.9" ry="15.4" stroke-dashoffset="3"/>
<ellipse cx="1094.6" cy="797.2" rx="16.9" ry="15.4" stroke-dashoffset="4"/>
<ellipse cx="1099.8" cy="799.5" rx="16.9" ry="15.4" stroke-dashoffset="3"/>
<ellipse cx="1105.0" cy="801.8" rx="16.9" ry="15.4" stroke-dashoffset="1"/>
<ellipse cx="1110.2" cy="804.1" rx="16.9" ry="15.4" stroke-dashoffset="4"/>
<ellipse cx="1115.3" cy="806.4" rx="16.9" ry="15.4" stroke-dashoffset="2"/>
<ellipse cx="1120.5" cy="808.7" rx="16.9" ry="15.4" stroke-dashoffset="3"/>
<ellipse cx="1125.7" cy="811.0" rx="16.9" ry="15.4" stroke-dashoffset="4"/>
<ellipse cx="1130.9" cy="813.3" rx="16.9" ry="15.4" stroke-dashoffset="1"/>
<ellipse cx="1136.1" cy="815.6" rx="16.9" ry="15.4" stroke-dashoffset="4"/>
<ellipse cx="1141.3" cy="817.9" rx="16.9" ry="15.4" stroke-dashoffset="0"/>
<ellipse cx="1146.5" cy="820.2" rx="16.9" ry="15.4" stroke-dashoffset="2"/>
<ellipse cx="1151.7" cy="822.4" rx="16.9" ry="15.4" stroke-dashoffset="7"/>
<ellipse cx="1156.9" cy="824.7" rx="16.9" ry="15.4" stroke-dashoffset="7"/>
<ellipse cx="1162.1" cy="826.9" rx="16.9" ry="15.4" stroke-dashoffset="4"/>
<ellipse cx="1167.3" cy="829.1" rx="16.9" ry="15.4" stroke-dashoffset="6"/>
<ellipse cx="1172.5" cy="831.2" rx="16.9" ry="15.4" stroke-dashoffset="6"/>
<ellipse cx="1177.7" cy="833.3" rx="16.9" ry="15.4" stroke-dashoffset="1"/>
<ellipse cx="1182.9" cy="835.3" rx="16.9" ry="15.4" stroke-dashoffset="7"/>
<ellipse cx="1188.1" cy="837.3" rx="16.9" ry="15.4" stroke-dashoffset="6"/>
<ellipse cx="1193.3" cy="839.3" rx="16.9" ry="15.4" stroke-dashoffset="6"/>
<ellipse cx="1198.4" cy="841.2" rx="16.9" ry="15.4" stroke-dashoffset="2"/>
<ellipse cx="1203.6" cy="843.1" rx="16.9" ry="15.4" stroke-dashoffset="2"/>
<ellipse cx="1208.8" cy="845.0" rx="16.9" ry="15.4" stroke-dashoffset="1"/>
<ellipse cx="1214.0" cy="846.9" rx="16.9" ry="15.4" stroke-dashoffset="3"/>
<ellipse cx="1219.2" cy="848.8" rx="16.9" ry="15.4" stroke-dashoffset="0"/>
<ellipse cx="1224.4" cy="850.7" rx="16.9" ry="15.4" stroke-dashoffset="0"/>
<ellipse cx="1229.6" cy="852.6" rx="16.9" ry="15.4" stroke-dashoffset="0"/>
<ellipse cx="1234.8" cy="854.5" rx="16.9" ry="15.4" stroke-dashoffset="3"/>
<ellipse cx="1240.0" cy="856.5" rx="16.9" ry="15.4" stroke-dashoffset="1"/>
<ellipse cx="1245.2" cy="858.4" rx="16.9" ry="15.4" stroke-dashoffset="7"/>
<ellipse cx="1250.4" cy="860.3" rx="16.9" ry="15.4" stroke-dashoffset="4"/>
<ellipse cx="1255.6" cy="862.3" rx="16.9" ry="15.4" stroke-dashoffset="4"/>
<ellipse cx="1260.8" cy="864.2" rx="16.9" ry="15.4" stroke-dashoffset="3"/>
<ellipse cx="1266.0" cy="866.0" rx="16.9" ry="15.4" stroke-dashoffset="0"/>
<ellipse cx="1271.2" cy="867.9" rx="16.9" ry="15.4" stroke-dashoffset="2"/>
<ellipse cx="1276.3" cy="869.6" rx="16.9" ry="15.4" stroke-dashoffset="6"/>
<ellipse cx="1281.5" cy="871.4" rx="16.9" ry="15.4" stroke-dashoffset="4"/>
<ellipse cx="1286.7" cy="873.0" rx="16.9" ry="15.4" stroke-dashoffset="0"/>
<ellipse cx="1291.9" cy="874.7" rx="16.9" ry="15.4" stroke-dashoffset="0"/>
<ellipse cx="1297.1" cy="876.2" rx="16.9" ry="15.4" stroke-dashoffset="7"/>
<ellipse cx="1302.3" cy="877.7" rx="16.9" ry="15.4" stroke-dashoffset="6"/>
<ellipse cx="1307.5" cy="879.1" rx="16.9" ry="15.4" stroke-dashoffset="5"/>
<ellipse cx="1312.7" cy="880.5" rx="16.9" ry="15.4" stroke-dashoffset="3"/>
<ellipse cx="1317.9" cy="881.8" rx="16.9" ry="15.4" stroke-dashoffset="6"/>
<ellipse cx="1323.1" cy="883.1" rx="16.9" ry="15.4" stroke-dashoffset="3"/>
<ellipse cx="1328.3" cy="884.3" rx="16.9" ry="15.4" stroke-dashoffset="3"/>
<ellipse cx="1333.5" cy="885.4" rx="16.9" ry="15.4" stroke-dashoffset="4"/>
<ellipse cx="1338.7" cy="886.5" rx="16.9" ry="15.4" stroke-dashoffset="0"/>
<ellipse cx="1343.9" cy="887.6" rx="16.9" ry="15.4" stroke-dashoffset="2"/>
<ellipse cx="1349.1" cy="888.6" rx="16.9" ry="15.4" stroke-dashoffset="2"/>
<ellipse cx="1354.3" cy="889.5" rx="16.9" ry="15.4" stroke-dashoffset="1"/>
<ellipse cx="1359.4" cy="890.4" rx="16.9" ry="15.4" stroke-dashoffset="3"/>
<ellipse cx="1364.6" cy="891.2" rx="16.9" ry="15.4" stroke-dashoffset="1"/>
<ellipse cx="1369.8" cy="892.0" rx="16.9" ry="15.4" stroke-dashoffset="5"/>
<ellipse cx="1375.0" cy="892.8" rx="16.9" ry="15.4" stroke-dashoffset="7"/>
<ellipse cx="1380.2" cy="893.5" rx="16.9" ry="15.4" stroke-dashoffset="7"/>
<ellipse cx="1385.4" cy="894.2" rx="16.9" ry="15.4" stroke-dashoffset="1"/>
<ellipse cx="1390.6" cy="894.9" rx="16.9" ry="15.4" stroke-dashoffset="7"/>
<ellipse cx="1395.8" cy="895.5" rx="16.9" ry="15.4" stroke-dashoffset="2"/>
<ellipse cx="1401.0" cy="896.1" rx="16.9" ry="15.4" stroke-dashoffset="6"/>
<ellipse cx="1406.2" cy="896.6" rx="16.9" ry="15.4" stroke-dashoffset="3"/>
<ellipse cx="1411.4" cy="897.1" rx="16.9" ry="15.4" stroke-dashoffset="6"/>
<ellipse cx="1416.6" cy="897.6" rx="16.9" ry="15.4" stroke-dashoffset="0"/>
<ellipse cx="1421.8" cy="898.0" rx="16.9" ry="15.4" stroke-dashoffset="0"/>
<ellipse cx="1427.0" cy="898.4" rx="16.9" ry="15.4" stroke-dashoffset="5"/>
<ellipse cx="1432.2" cy="898.7" rx="16.9" ry="15.4" stroke-dashoffset="1"/>
<ellipse cx="1437.4" cy="898.9" rx="16.9" ry="15.4" stroke-dashoffset="1"/>
<ellipse cx="1442.5" cy="899.1" rx="16.9" ry="15.4" stroke-dashoffset="1"/>
<ellipse cx="1447.7" cy="899.2" rx="16.9" ry="15.4" stroke-dashoffset="0"/>
<ellipse cx="1452.9" cy="899.3" rx="16.9" ry="15.4" stroke-dashoffset="0"/>
<ellipse cx="1458.1" cy="899.3" rx="16.9" ry="15.4" stroke-dashoffset="7"/>
<ellipse cx="1463.3" cy="899.3" rx="16.9" ry="15.4" stroke-dashoffset="7"/>
<ellipse cx="1468.5" cy="899.2" rx="16.9" ry="15.4" stroke-dashoffset="1"/>
<ellipse cx="1473.7" cy="899.1" rx="16.9" ry="15.4" stroke-dashoffset="4"/>
<ellipse cx="1478.9" cy="898.9" rx="16.9" ry="15.4" stroke-dashoffset="7"/>
<ellipse cx="1484.1" cy="898.6" rx="16.9" ry="15.4" stroke-dashoffset="1"/>
<ellipse cx="1489.3" cy="898.3" rx="16.9" ry="15.4" stroke-dashoffset="3"/>
<ellipse cx="1494.5" cy="898.0" rx="16.9" ry="15.4" stroke-dashoffset="4"/>
<ellipse cx="1499.7" cy="897.5" rx="16.9" ry="15.4" stroke-dashoffset="2"/>
<ellipse cx="1504.9" cy="897.1" rx="16.9" ry="15.4" stroke-dashoffset="1"/>
<ellipse cx="1510.1" cy="896.5" rx="16.9" ry="15.4" stroke-dashoffset="7"/>
<ellipse cx="1515.3" cy="895.9" rx="16.9" ry="15.4" stroke-dashoffset="5"/>
<ellipse cx="1520.5" cy="895.3" rx="16.9" ry="15.4" stroke-dashoffset="4"/>
<ellipse cx="1525.6" cy="894.5" rx="16.9" ry="15.4" stroke-dashoffset="4"/>
<ellipse cx="1530.8" cy="893.7" rx="16.9" ry="15.4" stroke-dashoffset="2"/>
<ellipse cx="1536.0" cy="892.8" rx="16.9" ry="15.4" stroke-dashoffset="2"/>
<ellipse cx="1541.2" cy="891.9" rx="16.9" ry="15.4" stroke-dashoffset="6"/>
<ellipse cx="1546.4" cy="890.8" rx="16.9" ry="15.4" stroke-dashoffset="5"/>
<ellipse cx="1551.6" cy="889.7" rx="16.9" ry="15.4" stroke-dashoffset="1"/>
<ellipse cx="1556.8" cy="888.6" rx="16.9" ry="15.4" stroke-dashoffset="2"/>
<ellipse cx="1562.0" cy="887.3" rx="16.9" ry="15.4" stroke-dashoffset="3"/>
<ellipse cx="1567.2" cy="886.0" rx="16.9" ry="15.4" stroke-dashoffset="5"/>
<ellipse cx="1572.4" cy="884.6" rx="16.9" ry="15.4" stroke-dashoffset="1"/>
<ellipse cx="1577.6" cy="883.1" rx="16.9" ry="15.4" stroke-dashoffset="2"/>
<ellipse cx="1582.8" cy="881.6" rx="16.9" ry="15.4" stroke-dashoffset="4"/>
<ellipse cx="1588.0" cy="880.0" rx="16.9" ry="15.4" stroke-dashoffset="1"/>
<ellipse cx="1593.2" cy="878.4" rx="16.9" ry="15.4" stroke-dashoffset="0"/>
<ellipse cx="1598.4" cy="876.7" rx="16.9" ry="15.4" stroke-dashoffset="1"/>
<ellipse cx="1603.5" cy="875.0" rx="16.9" ry="15.4" stroke-dashoffset="2"/>
<ellipse cx="1608.7" cy="873.2" rx="16.9" ry="15.4" stroke-dashoffset="6"/>
<ellipse cx="1613.9" cy="871.3" rx="16.9" ry="15.4" stroke-dashoffset="3"/>
<ellipse cx="1619.1" cy="869.4" rx="16.9" ry="15.4" stroke-dashoffset="6"/>
<ellipse cx="1624.3" cy="867.4" rx="16.9" ry="15.4" stroke-dashoffset="0"/>
<ellipse cx="1629.5" cy="865.4" rx="16.9" ry="15.4" stroke-dashoffset="2"/>
<ellipse cx="1634.7" cy="863.3" rx="16.9" ry="15.4" stroke-dashoffset="5"/>
<ellipse cx="1639.9" cy="861.2" rx="16.9" ry="15.4" stroke-dashoffset="2"/>
<ellipse cx="1645.1" cy="859.1" rx="16.9" ry="15.4" stroke-dashoffset="7"/>
<ellipse cx="1650.3" cy="856.8" rx="16.9" ry="15.4" stroke-dashoffset="5"/>
<ellipse cx="1655.5" cy="854.6" rx="16.9" ry="15.4" stroke-dashoffset="4"/>
<ellipse cx="1660.7" cy="852.3" rx="16.9" ry="15.4" stroke-dashoffset="3"/>
<ellipse cx="1665.9" cy="849.9" rx="16.9" ry="15.4" stroke-dashoffset="6"/>
<ellipse cx="1671.1" cy="847.5" rx="16.9" ry="15.4" stroke-dashoffset="2"/>
<ellipse cx="1676.3" cy="845.1" rx="16.9" ry="15.4" stroke-dashoffset="1"/>
<ellipse cx="1681.5" cy="842.6" rx="16.9" ry="15.4" stroke-dashoffset="5"/>
<ellipse cx="1686.6" cy="840.1" rx="16.9" ry="15.4" stroke-dashoffset="1"/>
<ellipse cx="1691.8" cy="837.6" rx="16.9" ry="15.4" stroke-dashoffset="6"/>
<ellipse cx="1697.0" cy="835.0" rx="16.9" ry="15.4" stroke-dashoffset="1"/>
<ellipse cx="1702.2" cy="832.4" rx="16.9" ry="15.4" stroke-dashoffset="5"/>
<ellipse cx="1707.4" cy="829.8" rx="16.9" ry="15.4" stroke-dashoffset="1"/>
<ellipse cx="1712.6" cy="827.2" rx="16.9" ry="15.4" stroke-dashoffset="6"/>
<ellipse cx="1717.8" cy="824.5" rx="16.9" ry="15.4" stroke-dashoffset="1"/>
<ellipse cx="1723.0" cy="821.9" rx="16.9" ry="15.4" stroke-dashoffset="0"/>
<ellipse cx="1728.2" cy="819.2" rx="16.9" ry="15.4" stroke-dashoffset="4"/>
<ellipse cx="1733.4" cy="816.6" rx="16.9" ry="15.4" stroke-dashoffset="0"/>
<ellipse cx="1738.6" cy="813.9" rx="16.9" ry="15.4" stroke-dashoffset="5"/>
<ellipse cx="1743.8" cy="811.3" rx="16.9" ry="15.4" stroke-dashoffset="6"/>
<ellipse cx="1749.0" cy="808.7" rx="16.9" ry="15.4" stroke-dashoffset="0"/>
<ellipse cx="1754.2" cy="806.1" rx="16.9" ry="15.4" stroke-dashoffset="7"/>
<ellipse cx="1759.4" cy="803.5" rx="16.9" ry="15.4" stroke-dashoffset="5"/>
<ellipse cx="1764.6" cy="801.0" rx="16.9" ry="15.4" stroke-dashoffset="5"/>
<ellipse cx="1769.7" cy="798.6" rx="16.9" ry="15.4" stroke-dashoffset="2"/>
<ellipse cx="1774.9" cy="796.2" rx="16.9" ry="15.4" stroke-dashoffset="1"/>
<ellipse cx="1780.1" cy="793.8" rx="16.9" ry="15.4" stroke-dashoffset="3"/>
<ellipse cx="1785.3" cy="791.5" rx="16.9" ry="15.4" stroke-dashoffset="4"/>
<ellipse cx="1790.5" cy="789.3" rx="16.9" ry="15.4" stroke-dashoffset="3"/>
<ellipse cx="1795.7" cy="787.1" rx="16.9" ry="15.4" stroke-dashoffset="3"/>
<ellipse cx="1800.9" cy="785.1" rx="16.9" ry="15.4" stroke-dashoffset="0"/>
<ellipse cx="1806.1" cy="783.1" rx="16.9" ry="15.4" stroke-dashoffset="3"/>
<ellipse cx="1811.3" cy="781.2" rx="16.9" ry="15.4" stroke-dashoffset="7"/>
<ellipse cx="1816.5" cy="779.4" rx="16.9" ry="15.4" stroke-dashoffset="3"/>
</g>
<text transform="translate(229.80,1000.80) scale(0.9811,1.0000)" font-family='"Liberation Serif", serif' font-weight="bold" font-size="53" fill="#262626">0</text>
<text transform="translate(474.75,1000.80) scale(1.0660,1.0000)" font-family='"Liberation Serif", serif' font-weight="bold" font-size="53" fill="#262626">50</text>
<text transform="translate(719.70,1000.80) scale(1.0943,1.0000)" font-family='"Liberation Serif", serif' font-weight="bold" font-size="53" fill="#262626">100</text>
<text transform="translate(979.90,1000.80) scale(1.0943,1.0000)" font-family='"Liberation Serif", serif' font-weight="bold" font-size="53" fill="#262626">150</text>
<text transform="translate(1239.85,1000.80) scale(1.1006,1.0000)" font-family='"Liberation Serif", serif' font-weight="bold" font-size="53" fill="#262626">200</text>
<text transform="translate(1500.05,1000.80) scale(1.1006,1.0000)" font-family='"Liberation Serif", serif' font-weight="bold" font-size="53" fill="#262626">250</text>
<text transform="translate(1760.00,1000.80) scale(1.1069,1.0000)" font-family='"Liberation Serif", serif' font-weight="bold" font-size="53" fill="#262626">300</text>
<text transform="translate(126.60,863.20) scale(0.9434,1.0000)" font-family='"Liberation Serif", serif' font-weight="bold" font-size="53" fill="#262626">6</text>
<text transform="translate(126.60,746.00) scale(0.9434,1.0000)" font-family='"Liberation Serif", serif' font-weight="bold" font-size="53" fill="#262626">8</text>
<text transform="translate(101.10,628.80) scale(0.9528,1.0000)" font-family='"Liberation Serif", serif' font-weight="bold" font-size="53" fill="#262626">10</text>
<text transform="translate(101.10,511.60) scale(0.9528,1.0000)" font-family='"Liberation Serif", serif' font-weight="bold" font-size="53" fill="#262626">12</text>
<text transform="translate(101.10,394.40) scale(0.9528,1.0000)" font-family='"Liberation Serif", serif' font-weight="bold" font-size="53" fill="#262626">14</text>
<text transform="translate(101.10,277.20) scale(0.9528,1.0000)" font-family='"Liberation Serif", serif' font-weight="bold" font-size="53" fill="#262626">16</text>
<text transform="translate(101.10,160.00) scale(0.9528,1.0000)" font-family='"Liberation Serif", serif' font-weight="bold" font-size="53" fill="#262626">18</text>
<text transform="translate(875.80,1056.40) scale(1.2295,1.0000)" font-family='"Liberation Serif", serif' font-weight="bold" font-size="53.5" fill="#262626">Record number</text>
<text transform="translate(84.50,769.80) rotate(-90) scale(1.0030,1.1000)" font-family='"Liberation Serif", serif' font-weight="bold" font-size="57" fill="#262626">preload drag force(N)</text>
<rect x="942.50" y="129.50" width="861.00" height="100.50" fill="#262626" />
<rect x="952.50" y="138.00" width="841.50" height="83.50" fill="#ffffff" />
<ellipse cx="991.5" cy="180.3" rx="8.3" ry="7" fill="#0e72b7"/>
<ellipse cx="1350" cy="180.4" rx="17.7" ry="16.6" fill="none" stroke="#e3b04a" stroke-opacity="0.6" stroke-width="1.4" stroke-dasharray="4 5"/>
<text transform="translate(1029.00,199.40) scale(1.2003,1.0000)" font-family='"Liberation Serif", serif' font-weight="bold" font-size="50.5" fill="#000">True value</text>
<text transform="translate(1386.80,199.40) scale(1.1911,1.0000)" font-family='"Liberation Serif", serif' font-weight="bold" font-size="50.5" fill="#000">Predicted value</text>
<text transform="translate(955.00,1156.90) scale(0.8911,1)" font-family='"Liberation Serif", serif' font-size="85.5" fill="#000">(<tspan font-weight="bold">a</tspan>)</text>
<rect x="2400.00" y="50.50" width="1761.00" height="8.50" fill="#262626" />
<rect x="2400.00" y="934.50" width="1761.00" height="9.50" fill="#262626" />
<rect x="2400.00" y="50.50" width="8.50" height="893.50" fill="#262626" />
<rect x="4150.00" y="50.50" width="11.00" height="893.50" fill="#262626" />
<rect x="2582.40" y="58.00" width="9.20" height="17.00" fill="#262626" />
<rect x="2582.40" y="918.00" width="9.20" height="17.50" fill="#262626" />
<rect x="2407.50" y="840.85" width="20.50" height="9.00" fill="#262626" />
<rect x="4134.50" y="840.85" width="16.50" height="9.00" fill="#262626" />
<rect x="2800.55" y="58.00" width="9.20" height="17.00" fill="#262626" />
<rect x="2800.55" y="918.00" width="9.20" height="17.50" fill="#262626" />
<rect x="2407.50" y="730.80" width="20.50" height="9.00" fill="#262626" />
<rect x="4134.50" y="730.80" width="16.50" height="9.00" fill="#262626" />
<rect x="3018.70" y="58.00" width="9.20" height="17.00" fill="#262626" />
<rect x="3018.70" y="918.00" width="9.20" height="17.50" fill="#262626" />
<rect x="2407.50" y="620.75" width="20.50" height="9.00" fill="#262626" />
<rect x="4134.50" y="620.75" width="16.50" height="9.00" fill="#262626" />
<rect x="3236.85" y="58.00" width="9.20" height="17.00" fill="#262626" />
<rect x="3236.85" y="918.00" width="9.20" height="17.50" fill="#262626" />
<rect x="2407.50" y="510.70" width="20.50" height="9.00" fill="#262626" />
<rect x="4134.50" y="510.70" width="16.50" height="9.00" fill="#262626" />
<rect x="3455.00" y="58.00" width="9.20" height="17.00" fill="#262626" />
<rect x="3455.00" y="918.00" width="9.20" height="17.50" fill="#262626" />
<rect x="2407.50" y="400.65" width="20.50" height="9.00" fill="#262626" />
<rect x="4134.50" y="400.65" width="16.50" height="9.00" fill="#262626" />
<rect x="3673.15" y="58.00" width="9.20" height="17.00" fill="#262626" />
<rect x="3673.15" y="918.00" width="9.20" height="17.50" fill="#262626" />
<rect x="2407.50" y="290.60" width="20.50" height="9.00" fill="#262626" />
<rect x="4134.50" y="290.60" width="16.50" height="9.00" fill="#262626" />
<rect x="3891.30" y="58.00" width="9.20" height="17.00" fill="#262626" />
<rect x="3891.30" y="918.00" width="9.20" height="17.50" fill="#262626" />
<rect x="2407.50" y="180.55" width="20.50" height="9.00" fill="#262626" />
<rect x="4134.50" y="180.55" width="16.50" height="9.00" fill="#262626" />
<rect x="4109.45" y="58.00" width="9.20" height="17.00" fill="#262626" />
<rect x="4109.45" y="918.00" width="9.20" height="17.50" fill="#262626" />
<rect x="2407.50" y="70.50" width="20.50" height="9.00" fill="#262626" />
<rect x="4134.50" y="70.50" width="16.50" height="9.00" fill="#262626" />
<clipPath id="cb"><rect x="2408.5" y="59" width="1741.5" height="875.5"/></clipPath>
<line x1="2325.2" y1="977.4" x2="4201.3" y2="31.0" stroke="#000" stroke-width="2.2" clip-path="url(#cb)"/>
<text transform="translate(2574.35,1002.60) scale(0.9547,1.0000)" font-family='"Liberation Serif", serif' font-weight="bold" font-size="53" fill="#262626">6</text>
<text transform="translate(2361.70,862.85) scale(0.9774,1.0000)" font-family='"Liberation Serif", serif' font-weight="bold" font-size="53" fill="#262626">6</text>
<text transform="translate(2770.00,1002.60) scale(1.0611,1.0000)" font-family='"Liberation Serif", serif' font-weight="bold" font-size="53" fill="#262626">6.5</text>
<text transform="translate(2315.60,752.80) scale(1.0868,1.0000)" font-family='"Liberation Serif", serif' font-weight="bold" font-size="53" fill="#262626">6.5</text>
<text transform="translate(3010.65,1002.60) scale(0.9547,1.0000)" font-family='"Liberation Serif", serif' font-weight="bold" font-size="53" fill="#262626">7</text>
<text transform="translate(2361.70,642.75) scale(0.9774,1.0000)" font-family='"Liberation Serif", serif' font-weight="bold" font-size="53" fill="#262626">7</text>
<text transform="translate(3206.30,1002.60) scale(1.0611,1.0000)" font-family='"Liberation Serif", serif' font-weight="bold" font-size="53" fill="#262626">7.5</text>
<text transform="translate(2315.60,532.70) scale(1.0868,1.0000)" font-family='"Liberation Serif", serif' font-weight="bold" font-size="53" fill="#262626">7.5</text>
<text transform="translate(3446.95,1002.60) scale(0.9547,1.0000)" font-family='"Liberation Serif", serif' font-weight="bold" font-size="53" fill="#262626">8</text>
<text transform="translate(2361.70,422.65) scale(0.9774,1.0000)" font-family='"Liberation Serif", serif' font-weight="bold" font-size="53" fill="#262626">8</text>
<text transform="translate(3642.60,1002.60) scale(1.0611,1.0000)" font-family='"Liberation Serif", serif' font-weight="bold" font-size="53" fill="#262626">8.5</text>
<text transform="translate(2315.60,312.60) scale(1.0868,1.0000)" font-family='"Liberation Serif", serif' font-weight="bold" font-size="53" fill="#262626">8.5</text>
<text transform="translate(3883.25,1002.60) scale(0.9547,1.0000)" font-family='"Liberation Serif", serif' font-weight="bold" font-size="53" fill="#262626">9</text>
<text transform="translate(2361.70,202.55) scale(0.9774,1.0000)" font-family='"Liberation Serif", serif' font-weight="bold" font-size="53" fill="#262626">9</text>
<text transform="translate(4078.90,1002.60) scale(1.0611,1.0000)" font-family='"Liberation Serif", serif' font-weight="bold" font-size="53" fill="#262626">9.5</text>
<text transform="translate(2315.60,92.50) scale(1.0868,1.0000)" font-family='"Liberation Serif", serif' font-weight="bold" font-size="53" fill="#262626">9.5</text>
<text transform="translate(2995.40,1047.80) scale(1.0687,1.0000)" font-family='"Liberation Serif", serif' font-weight="bold" font-size="60" fill="#262626">Measured values(N)</text>
<text transform="translate(2295.70,740.00) rotate(-90) scale(1.0604,1.1000)" font-family='"Liberation Serif", serif' font-weight="bold" font-size="57" fill="#262626">Predicted value(N)</text>
<rect x="2444.00" y="102.40" width="953.40" height="123.10" fill="#262626" />
<rect x="2444.00" y="225.50" width="953.40" height="2.00" fill="#b0b0b0" />
<rect x="2452.50" y="111.00" width="936.50" height="106.00" fill="#ffffff" />
<ellipse cx="2494.4" cy="163.6" rx="7.2" ry="6.5" fill="#0e72b7"/>
<text transform="translate(2530.40,181.00) scale(1.1664,1.0000)" font-family='"Liberation Serif", serif' font-weight="bold" font-size="45" fill="#000">Preload drag force</text>
<rect x="2961.70" y="161.70" width="58.70" height="2.20" fill="#000" />
<text transform="translate(3025.70,181.00) scale(1.1730,1.0000)" font-family='"Liberation Serif", serif' font-weight="bold" font-size="45" fill="#000">Standard curve</text>
<rect x="2486" y="683.3" width="239.30000000000018" height="131.70000000000005" rx="2" fill="#fbfbfe" stroke="#f0f0f5" stroke-width="1"/>
<text transform="translate(2495.80,737.50) scale(1.0160,1.0000)" font-family='"Liberation Sans", sans-serif' font-weight="normal" font-size="43.5" fill="#404040">X</text>
<text transform="translate(2542.30,737.50) scale(1.0907,1.0000)" font-family='"Liberation Sans", sans-serif' font-weight="bold" font-size="43.5" fill="#2196e8">5.76</text>
<text transform="translate(2495.80,796.40) scale(1.0470,1.0000)" font-family='"Liberation Sans", sans-serif' font-weight="normal" font-size="43.5" fill="#404040">Y</text>
<text transform="translate(2541.70,796.40) scale(1.0785,1.0000)" font-family='"Liberation Sans", sans-serif' font-weight="bold" font-size="43.5" fill="#2196e8">6.12381</text>
<rect x="2478.788" y="814.599419" width="7" height="7" rx="1.5" fill="#1c2f45"/>
<rect x="2877.5" y="542.2" width="241.9000000000001" height="134.5" rx="2" fill="#fbfbfe" stroke="#e6e6ec" stroke-width="1"/>
<rect x="2883.5" y="541.2" width="229.9000000000001" height="2" fill="#a9a9a9"/>
<rect x="2883.5" y="675.7" width="229.9000000000001" height="2" fill="#a9a9a9"/>
<text transform="translate(2888.30,598.00) scale(1.0229,1.0000)" font-family='"Liberation Sans", sans-serif' font-weight="normal" font-size="43.5" fill="#404040">X</text>
<text transform="translate(2933.70,598.00) scale(1.1025,1.0000)" font-family='"Liberation Sans", sans-serif' font-weight="bold" font-size="43.5" fill="#2196e8">6.66</text>
<text transform="translate(2887.60,655.30) scale(1.0470,1.0000)" font-family='"Liberation Sans", sans-serif' font-weight="normal" font-size="43.5" fill="#404040">Y</text>
<text transform="translate(2933.70,655.30) scale(1.1148,1.0000)" font-family='"Liberation Sans", sans-serif' font-weight="bold" font-size="43.5" fill="#2196e8">6.76136</text>
<rect x="2871.458" y="674.274664" width="7" height="7" rx="1.5" fill="#1c2f45"/>
<rect x="3780" y="95" width="244.5" height="133" rx="3" fill="#fbfbfe" stroke="#a8a8a8" stroke-width="1.7"/>
<text transform="translate(3900.00,150.50) scale(1.0332,1.0000)" font-family='"Liberation Sans", sans-serif' font-weight="normal" font-size="43.5" fill="#404040">X</text>
<text transform="translate(3947.00,150.50) scale(1.0866,1.0000)" font-family='"Liberation Sans", sans-serif' font-weight="bold" font-size="43.5" fill="#2196e8">9.3</text>
<text transform="translate(3790.00,207.20) scale(1.1021,1.0000)" font-family='"Liberation Sans", sans-serif' font-weight="normal" font-size="43.5" fill="#404040">Y</text>
<text transform="translate(3838.80,207.20) scale(1.1059,1.0000)" font-family='"Liberation Sans", sans-serif' font-weight="bold" font-size="43.5" fill="#2196e8">9.41316</text>
<rect x="4023.2900000000004" y="90.6134840000001" width="7" height="7" rx="1.5" fill="#1c2f45"/>
<text transform="translate(3130.60,1157.60) scale(0.9344,1)" font-family='"Liberation Serif", serif' font-size="85.5" fill="#000">(<tspan font-weight="bold">b</tspan>)</text>
</svg>
</body></html>
